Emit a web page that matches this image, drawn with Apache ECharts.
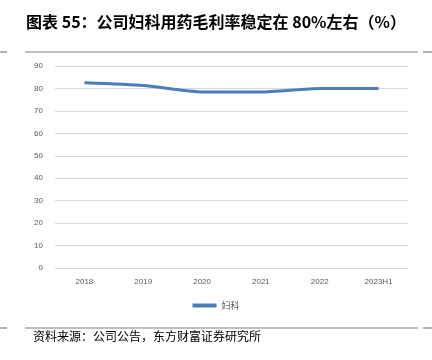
<!DOCTYPE html>
<html><head><meta charset="utf-8">
<script src="https://cdn.jsdelivr.net/npm/echarts@6/dist/echarts.min.js"></script>
<style>html,body{margin:0;padding:0;background:#fff}#c{width:432px;height:360px}</style>
</head><body><div id="c"></div>
<script>
const categories = ['2018','2019','2020','2021','2022','2023H1'];
const gynecology = [82.5, 81.3, 78.4, 78.4, 80.0, 80.0];
const seriesName = '妇科';
const titleText = '图表 55：公司妇科用药毛利率稳定在 80%左右（%）';
const sourceText = '资料来源：公司公告，东方财富证券研究所';

const chart = echarts.init(document.getElementById('c'));
chart.setOption({
  animation: false,
  title: {
    text: titleText, left: 'center', top: 9,
    textStyle: {fontFamily: 'Noto Sans CJK SC', fontWeight: 'bold', fontSize: 16, color: '#000'}
  },
  graphic: [
    {type: 'line', shape: {x1: 0, y1: 52, x2: 7, y2: 52}, style: {stroke: '#808080', lineWidth: 1.2}},
    {type: 'line', shape: {x1: 25, y1: 52, x2: 418, y2: 52}, style: {stroke: '#808080', lineWidth: 1.2}},
    {type: 'line', shape: {x1: 423, y1: 52, x2: 432, y2: 52}, style: {stroke: '#808080', lineWidth: 1.2}},
    {type: 'line', shape: {x1: 0, y1: 328, x2: 7, y2: 328}, style: {stroke: '#808080', lineWidth: 1.2}},
    {type: 'line', shape: {x1: 25, y1: 328, x2: 418, y2: 328}, style: {stroke: '#808080', lineWidth: 1.2}},
    {type: 'line', shape: {x1: 423, y1: 328, x2: 432, y2: 328}, style: {stroke: '#808080', lineWidth: 1.2}},
    {type: 'text', left: 33, top: 330, style: {text: sourceText, font: '12px "Noto Sans CJK SC"', fill: '#000'}}
  ],
  legend: {
    data: [seriesName], top: 296, left: 'center',
    itemWidth: 24, itemHeight: 4, icon: 'rect',
    textStyle: {fontFamily: 'Noto Sans CJK SC', fontSize: 9, color: '#595959'}
  },
  grid: {left: 55, right: 24, top: 66, bottom: 92},
  xAxis: {
    type: 'category', data: categories, boundaryGap: true,
    axisLine: {show: false}, axisTick: {show: false},
    axisLabel: {color: '#595959', fontSize: 8, fontFamily: 'Liberation Sans', margin: 10}
  },
  yAxis: {
    type: 'value', min: 0, max: 90, interval: 10,
    axisLine: {show: false}, axisTick: {show: false},
    axisLabel: {color: '#595959', fontSize: 8, fontFamily: 'Liberation Sans', margin: 12},
    splitLine: {lineStyle: {color: '#d9d9d9', width: 1}}
  },
  series: [{
    name: seriesName, type: 'line', data: gynecology, smooth: 0.2,
    symbol: 'none', lineStyle: {color: '#4a7ebb', width: 3}, itemStyle: {color: '#4a7ebb'}
  }]
});
</script></body></html>
